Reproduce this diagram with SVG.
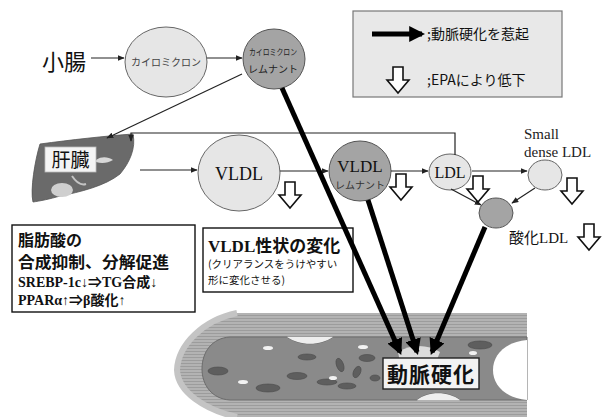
<svg xmlns="http://www.w3.org/2000/svg" width="602" height="417" viewBox="0 0 602 417">
<defs>
<style>
.jp{font-family:"Noto Sans CJK JP","Liberation Sans",sans-serif;fill:#111}
.sr{font-family:"Liberation Serif","Noto Sans CJK JP",serif;fill:#111}
.thin{stroke:#222;stroke-width:1.2;fill:none}
.thick{stroke:#000;stroke-width:5;fill:none}
.hollow{fill:#fff;stroke:#111;stroke-width:1.6;stroke-linejoin:miter}
.light{fill:#e6e6e6;stroke:#666;stroke-width:1}
.dark{fill:#a4a4a4;stroke:#555;stroke-width:1}
</style>
<marker id="ah" viewBox="0 0 10 10" refX="9" refY="5" markerWidth="7" markerHeight="7" orient="auto" markerUnits="userSpaceOnUse">
<path d="M0,1 L10,5 L0,9 Z" fill="#222"/>
</marker>
<marker id="bh" viewBox="0 0 10 10" refX="8" refY="5" markerWidth="3.2" markerHeight="3.2" orient="auto">
<path d="M0,0 L10,5 L0,10 Z" fill="#000"/>
</marker>
<path id="hol" d="M6,0 H16 V13 H22 L11,26 L0,13 H6 Z"/>
<pattern id="stripe" width="8" height="3" patternUnits="userSpaceOnUse">
<rect width="8" height="3" fill="#b3b3b3"/>
<rect width="8" height="1" fill="#9c9c9c"/>
</pattern>
</defs>

<g id="legend">
<rect x="353" y="11" width="209" height="86" fill="#e8e8e8" stroke="#777" stroke-width="1.2"/>
<line x1="372" y1="34" x2="422" y2="34" class="thick" marker-end="url(#bh)"/>
<text x="427" y="39" class="jp" font-size="14">;動脈硬化を惹起</text>
<use href="#hol" x="387" y="67" class="hollow"/>
<text x="427" y="85" class="jp" font-size="14">;EPAにより低下</text>
</g>

<g id="small-intestine">
<text x="42" y="70" class="jp" font-size="22">小腸</text>
</g>

<g id="chylomicron">
<ellipse cx="166" cy="62" rx="41" ry="35" class="light"/>
<text x="166" y="66" class="jp" font-size="10" text-anchor="middle" style="fill:#444">カイロミクロン</text>
</g>

<g id="cm-remnant">
<ellipse cx="274" cy="59" rx="31" ry="30" class="dark"/>
<text x="273" y="55" class="jp" font-size="8.5" text-anchor="middle" textLength="48" lengthAdjust="spacingAndGlyphs" style="fill:#222">カイロミクロン</text>
<text x="273" y="73" class="jp" font-size="10" text-anchor="middle" style="fill:#222">レムナント</text>
</g>

<g id="liver">
<path d="M40,144 C70,140 105,136 133,134 C136,148 130,162 120,174 C105,186 80,192 60,196 C50,199 40,201 33,202 C30,190 35,160 40,144 Z" fill="#6a6a6a" stroke="#555" stroke-width="0.8"/>
<ellipse cx="62" cy="190" rx="11" ry="7" fill="#cfcfcf"/>
<path d="M72,176 C76,182 80,186 86,184" stroke="#c4c4c4" stroke-width="2" fill="none"/>
<path d="M96,160 C102,156 108,157 113,160 C108,163 102,164 96,162 Z" fill="#d8d8d8"/>
<rect x="45" y="147" width="51" height="25" fill="#f4f4f4" stroke="#bbb" stroke-width="0.8"/>
<text x="70.5" y="167" class="jp" font-size="19" text-anchor="middle">肝臓</text>
</g>

<g id="vldl">
<ellipse cx="239" cy="173" rx="41" ry="38" class="light"/>
<text x="239" y="180" class="sr" font-size="18" text-anchor="middle">VLDL</text>
</g>

<g id="vldl-remnant">
<ellipse cx="360" cy="171" rx="31" ry="30" class="dark"/>
<text x="360" y="172" class="sr" font-size="17" text-anchor="middle">VLDL</text>
<text x="360" y="189" class="jp" font-size="10" text-anchor="middle" style="fill:#333">レムナント</text>
</g>

<g id="ldl">
<ellipse cx="450" cy="172" rx="21" ry="18" class="light"/>
<text x="450" y="178" class="sr" font-size="16" text-anchor="middle">LDL</text>
</g>

<g id="sd-ldl">
<ellipse cx="545" cy="175" rx="17" ry="15" class="light"/>
<text x="524" y="139" class="sr" font-size="15" style="fill:#222">Small</text>
<text x="524" y="157" class="sr" font-size="15" style="fill:#222">dense LDL</text>
</g>

<g id="ox-ldl">
<ellipse cx="496" cy="213" rx="17" ry="15" class="dark"/>
<text x="509" y="243" class="jp" font-size="15">酸化<tspan class="sr" font-size="15">LDL</tspan></text>
</g>

<g id="box-fatty">
<rect x="12" y="225" width="183" height="87" fill="#fff" stroke="#111" stroke-width="1.4"/>
<text x="18" y="246" class="jp" font-size="16" font-weight="bold">脂肪酸の</text>
<text x="18" y="268" class="jp" font-size="16" font-weight="bold" textLength="151" lengthAdjust="spacingAndGlyphs">合成抑制、分解促進</text>
<text x="18" y="287" class="sr" font-size="14" font-weight="bold">SREBP-1c↓⇒TG<tspan class="jp">合成</tspan>↓</text>
<text x="18" y="305" class="sr" font-size="14" font-weight="bold">PPARα↑⇒β<tspan class="jp">酸化</tspan>↑</text>
</g>

<g id="box-vldl">
<rect x="203" y="228" width="150" height="64" fill="#fff" stroke="#111" stroke-width="1.4"/>
<text x="208" y="252" class="sr" font-size="17" font-weight="bold">VLDL<tspan class="jp">性状の変化</tspan></text>
<text x="208" y="268" class="jp" font-size="10.5">(クリアランスをうけやすい</text>
<text x="208" y="284" class="jp" font-size="10.5">形に変化させる)</text>
</g>

<g id="artery">
<path d="M237,313 L527,313 L527,417 L237,417 C205,410 178,392 177,370 C178,345 203,320 237,313 Z" fill="url(#stripe)"/>
<path d="M237,313 C203,320 178,345 177,370 C178,392 205,410 237,417" fill="none" stroke="#c4c4c4" stroke-width="6"/>
<path d="M230,337 L287,337 C300,346 320,346 333,337 L527,337 L527,400 L460,400 C448,391 428,391 417,400 L230,400 C212,399 202,385 202,369 C202,352 212,338 230,337 Z" fill="#8a8a8a" stroke="#6c6c6c" stroke-width="1"/>
<path d="M287,337 C300,346 320,346 333,337 Z" fill="#eeeeee"/>
<path d="M417,400 C428,391 448,391 460,400 Z" fill="#eeeeee"/>
<path d="M527,340 C505,342 493,355 493,370 C493,385 505,398 527,400 Z" fill="#fff"/>
<g fill="#5e5e5e" stroke="#4a4a4a" stroke-width="0.6">
<ellipse cx="218" cy="371" rx="10" ry="4"/>
<ellipse cx="268" cy="388" rx="12" ry="4"/>
<ellipse cx="297" cy="376" rx="10" ry="3.5"/>
<ellipse cx="307" cy="357" rx="9" ry="3"/>
<ellipse cx="327" cy="382" rx="10" ry="3"/>
<ellipse cx="340" cy="365" rx="3.5" ry="7" transform="rotate(-20 340 365)"/>
<ellipse cx="357" cy="372" rx="3.5" ry="6" transform="rotate(25 357 372)"/>
<ellipse cx="367" cy="358" rx="8" ry="3.5"/>
<ellipse cx="347" cy="386" rx="9" ry="3"/>
<ellipse cx="480" cy="345" rx="12" ry="4"/>
<ellipse cx="375" cy="378" rx="5" ry="3"/>
</g>
<g fill="#f2f2f2">
<ellipse cx="268" cy="348" rx="5" ry="2"/>
<ellipse cx="243" cy="382" rx="5" ry="2"/>
<ellipse cx="333" cy="378" rx="4" ry="2"/>
<ellipse cx="363" cy="347" rx="5" ry="2"/>
<ellipse cx="473" cy="353" rx="4" ry="2"/>
<path d="M398,352 C410,344 428,344 440,352 L436,362 L400,362 Z" fill="#dcdcdc"/>
</g>
<rect x="383" y="358" width="96" height="31" fill="#f2f2f2" stroke="#222" stroke-width="1.4"/>
<text x="431" y="382" class="jp" font-size="21" font-weight="bold" text-anchor="middle" letter-spacing="1">動脈硬化</text>
</g>

<g id="connectors">
<line x1="91" y1="58" x2="124" y2="58" class="thin" marker-end="url(#ah)"/>
<line x1="207" y1="58" x2="242" y2="58" class="thin" marker-end="url(#ah)"/>
<line x1="242" y1="74" x2="107" y2="138" class="thin" marker-end="url(#ah)"/>
<polyline points="455,155 455,133 131,133 131,141" class="thin" stroke-width="1.6" marker-end="url(#ah)"/>
<line x1="140" y1="170" x2="197" y2="170" class="thin" marker-end="url(#ah)"/>
<line x1="280" y1="171" x2="328" y2="171" class="thin" marker-end="url(#ah)"/>
<line x1="391" y1="171" x2="428" y2="171" class="thin" marker-end="url(#ah)"/>
<line x1="472" y1="171" x2="527" y2="171" class="thin" marker-end="url(#ah)"/>
<line x1="451" y1="189" x2="481" y2="205" class="thin" marker-end="url(#ah)"/>
<line x1="535" y1="188" x2="512" y2="203" class="thin" marker-end="url(#ah)"/>
<line x1="282" y1="88" x2="400" y2="352" class="thick" marker-end="url(#bh)"/>
<line x1="368" y1="200" x2="417" y2="352" class="thick" marker-end="url(#bh)"/>
<line x1="485" y1="227" x2="432" y2="352" class="thick" marker-end="url(#bh)"/>
<use href="#hol" x="279" y="182" class="hollow"/>
<use href="#hol" x="390" y="174" class="hollow"/>
<use href="#hol" x="467" y="176" class="hollow"/>
<use href="#hol" x="561" y="178" class="hollow"/>
<use href="#hol" x="578" y="224" class="hollow"/>
</g>
</svg>
